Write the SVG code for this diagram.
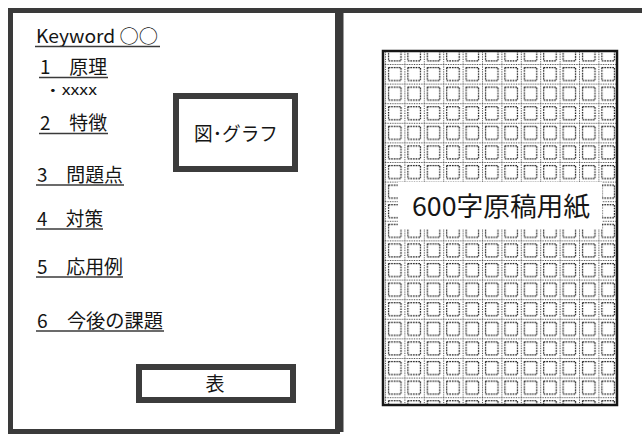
<svg xmlns="http://www.w3.org/2000/svg" width="642" height="436" viewBox="0 0 642 436">
<style>
.panel{fill:#fff;stroke:#3a3a3a;stroke-width:5}
.box{fill:#fff;stroke:#3c3c3c;stroke-width:6}
.t{font-family:"Noto Sans CJK JP","Liberation Sans",sans-serif;fill:#151515}
.item{font-size:19px}
.ul{stroke:#3a3a3a;stroke-width:1.6}
</style>
<defs>
<pattern id="cells" patternUnits="userSpaceOnUse" x="385" y="64" width="19.4" height="19.6">
<rect width="19.4" height="19.6" fill="#fff"/>
<line x1="0" y1="0.5" x2="19.4" y2="0.5" stroke="#444" stroke-width="1" stroke-dasharray="1.2 1.2"/>
<line x1="0.5" y1="0" x2="0.5" y2="19.6" stroke="#444" stroke-width="1" stroke-dasharray="1.2 1.2"/>
<rect x="3.5" y="3.5" width="12.5" height="13" fill="none" stroke="#111" stroke-width="1.2" stroke-dasharray="1.6 1"/>
</pattern>
</defs>
<rect width="642" height="436" fill="#fff"/>

<g id="left-panel">
<rect class="panel" x="10.5" y="10.5" width="327" height="421"/>
</g>
<g id="right-panel">
<path d="M341 432 V10.5 H645" fill="none" stroke="#3a3a3a" stroke-width="5"/>
</g>

<g id="keyword">
<text class="t" x="36" y="43" font-size="18" textLength="122" lengthAdjust="spacingAndGlyphs">Keyword ○○</text>
<line class="ul" x1="35" y1="46.5" x2="160" y2="46.5"/>
</g>
<g id="item1">
<text class="t item" x="40" y="74" textLength="67" lengthAdjust="spacingAndGlyphs">1　原理</text>
<line class="ul" x1="39" y1="77.5" x2="108" y2="77.5"/>
</g>
<g id="item1-sub">
<text class="t" x="44" y="95" font-size="14" textLength="53" lengthAdjust="spacingAndGlyphs">・xxxx</text>
</g>
<g id="item2">
<text class="t item" x="40" y="130" textLength="67" lengthAdjust="spacingAndGlyphs">2　特徴</text>
<line class="ul" x1="39" y1="133.5" x2="108" y2="133.5"/>
</g>
<g id="item3">
<text class="t item" x="37" y="182" textLength="86" lengthAdjust="spacingAndGlyphs">3　問題点</text>
<line class="ul" x1="36" y1="185" x2="124" y2="185"/>
</g>
<g id="item4">
<text class="t item" x="37" y="226" textLength="66" lengthAdjust="spacingAndGlyphs">4　対策</text>
<line class="ul" x1="36" y1="229" x2="103" y2="229"/>
</g>
<g id="item5">
<text class="t item" x="37" y="274" textLength="86" lengthAdjust="spacingAndGlyphs">5　応用例</text>
<line class="ul" x1="36" y1="277" x2="123" y2="277"/>
</g>
<g id="item6">
<text class="t item" x="37" y="328" textLength="126" lengthAdjust="spacingAndGlyphs">6　今後の課題</text>
<line class="ul" x1="36" y1="331" x2="164" y2="331"/>
</g>

<g id="figure-box">
<rect class="box" x="176" y="96" width="119" height="73"/>
<text class="t" x="236" y="141" font-size="19" text-anchor="middle" textLength="84" lengthAdjust="spacingAndGlyphs">図･グラフ</text>
</g>
<g id="table-box">
<rect class="box" x="139" y="367" width="154" height="33"/>
<text class="t" x="215" y="391" font-size="19" text-anchor="middle">表</text>
</g>

<g id="manuscript">
<rect x="383" y="51" width="234" height="354" fill="url(#cells)" stroke="#151515" stroke-width="2.5"/>
<rect x="398" y="182" width="204" height="47" fill="#fff"/>
<text class="t" x="412" y="216" font-size="26" textLength="178" lengthAdjust="spacingAndGlyphs">600字原稿用紙</text>
</g>

<g id="connectors"></g>
</svg>
